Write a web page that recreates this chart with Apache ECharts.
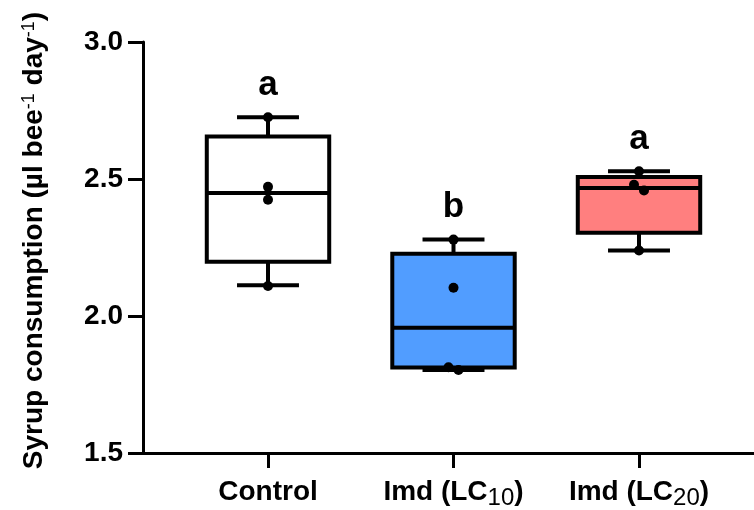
<!DOCTYPE html>
<html><head><meta charset="utf-8">
<script src="https://cdn.jsdelivr.net/npm/echarts@6/dist/echarts.min.js"></script>
<style>html,body{margin:0;padding:0;background:#fff}#c{width:754px;height:510px}</style>
</head><body><div id="c"></div>
<script>
// ---- data ----
const categories = ['Control', 'Imd (LC10)', 'Imd (LC20)'];
const boxMin    = [2.110, 1.800, 2.237];
const boxQ1     = [2.196, 1.809, 2.302];
const boxMedian = [2.448, 1.955, 2.466];
const boxQ3     = [2.654, 2.225, 2.506];
const boxMax    = [2.725, 2.277, 2.527];
const controlPoints = [2.725, 2.470, 2.423, 2.107];
const imd10Points   = [2.277, 2.101, 1.810, 1.800];
const imd20Points   = [2.527, 2.478, 2.457, 2.237];
const letters = ['a', 'b', 'a'];
const yMin = 1.5, yMax = 3.0, yStep = 0.5;

// ---- styles ----
const FONT = 'Liberation Sans, Arial, Helvetica, sans-serif';
const fills = ['#ffffff', '#519dff', '#ff7f7f'];
const jitter = [[0, 0, 0, 0], [0, 0, -5, 5], [0, -5, 5, 0]];
const pointSets = [controlPoints, imd10Points, imd20Points];

const pointData = [];
pointSets.forEach((arr, i) => arr.forEach((v, j) => {
  pointData.push({ value: [i, v], symbolOffset: [jitter[i][j], 0] });
}));

const chart = echarts.init(document.getElementById('c'), null, { renderer: 'canvas' });
chart.setOption({
  animation: false,
  backgroundColor: '#fff',
  grid: [
    { left: 143, right: 0, top: 42, bottom: 57 },
    { left: 175.25, right: 22.25, top: 42, bottom: 57 }
  ],
  xAxis: [
    { gridIndex: 0, type: 'value', min: 0, max: 1,
      axisLine: { show: true, onZero: false, lineStyle: { color: '#000', width: 3 } },
      axisTick: { show: false }, axisLabel: { show: false }, splitLine: { show: false } },
    { gridIndex: 1, type: 'category', data: categories,
      axisLine: { show: false },
      axisTick: { show: true, alignWithLabel: true, interval: 0, length: 16, lineStyle: { color: '#000', width: 3 } },
      axisLabel: {
        interval: 0, hideOverlap: false,
        margin: 26, color: '#000', fontSize: 28, fontWeight: 'bold', fontFamily: FONT, lineHeight: 28,
        formatter: v => v.replace(/LC(\d+)/, 'LC{s|$1}'),
        rich: { s: { fontSize: 24, fontWeight: 'normal', fontFamily: FONT, color: '#000', lineHeight: 16, padding: [12, 0, 0, 0] } }
      },
      splitLine: { show: false } }
  ],
  yAxis: [
    { gridIndex: 0, type: 'value', min: yMin, max: yMax, interval: yStep,
      axisLine: { show: true, lineStyle: { color: '#000', width: 3 } },
      axisTick: { show: true, length: 15, lineStyle: { color: '#000', width: 3 } },
      axisLabel: { margin: 20, color: '#000', fontSize: 28, fontWeight: 'bold', fontFamily: FONT,
        formatter: v => v.toFixed(1) },
      splitLine: { show: false },
      name: 'Syrup consumption (µl bee{sup|-1} day{sup|-1})',
      nameLocation: 'middle', nameGap: 95,
      nameTextStyle: { color: '#000', fontSize: 28, fontWeight: 'bold', fontFamily: FONT, lineHeight: 28,
        padding: [0, 0, 0, 14],
        rich: { sup: { fontSize: 18, fontWeight: 'normal', fontFamily: FONT, color: '#000', lineHeight: 15, verticalAlign: 'top' } } } },
    { gridIndex: 1, type: 'value', min: yMin, max: yMax, interval: yStep, show: false }
  ],
  series: [
    {
      type: 'custom', xAxisIndex: 1, yAxisIndex: 1, z: 2,
      data: categories.map((c, i) => [i, boxMin[i], boxQ1[i], boxMedian[i], boxQ3[i], boxMax[i]]),
      encode: { x: 0, y: [1, 2, 3, 4, 5] },
      renderItem: (params, api) => {
        const idx = api.value(0);
        const band = api.size([1, 0])[0];
        const cx = api.coord([idx, api.value(3)])[0];
        const pMin = api.coord([idx, api.value(1)])[1];
        const pQ1 = api.coord([idx, api.value(2)])[1];
        const pMed = api.coord([idx, api.value(3)])[1];
        const pQ3 = api.coord([idx, api.value(4)])[1];
        const pMax = api.coord([idx, api.value(5)])[1];
        const bw = band * 0.66, cw = band * 0.334, lw = 4;
        const st = { stroke: '#000', lineWidth: lw };
        return { type: 'group', children: [
          { type: 'line', shape: { x1: cx, y1: pQ3, x2: cx, y2: pMax }, style: st },
          { type: 'line', shape: { x1: cx, y1: pQ1, x2: cx, y2: pMin }, style: st },
          { type: 'line', shape: { x1: cx - cw / 2, y1: pMax, x2: cx + cw / 2, y2: pMax }, style: st },
          { type: 'line', shape: { x1: cx - cw / 2, y1: pMin, x2: cx + cw / 2, y2: pMin }, style: st },
          { type: 'rect', shape: { x: cx - bw / 2, y: pQ3, width: bw, height: pQ1 - pQ3 },
            style: { fill: fills[idx], stroke: '#000', lineWidth: lw } },
          { type: 'line', shape: { x1: cx - bw / 2, y1: pMed, x2: cx + bw / 2, y2: pMed }, style: st }
        ] };
      }
    },
    {
      type: 'scatter', xAxisIndex: 1, yAxisIndex: 1, z: 5,
      symbol: 'circle', symbolSize: 10, itemStyle: { color: '#000', opacity: 1 },
      data: pointData
    },
    {
      type: 'scatter', xAxisIndex: 1, yAxisIndex: 1, z: 6,
      symbolSize: 1, itemStyle: { color: '#fff', opacity: 0 },
      label: { show: true, position: 'top', distance: 14, color: '#000', opacity: 1, fontSize: 35, fontWeight: 'bold', fontFamily: FONT,
        formatter: p => letters[p.dataIndex] },
      data: categories.map((c, i) => [i, boxMax[i]])
    }
  ]
});
</script></body></html>
